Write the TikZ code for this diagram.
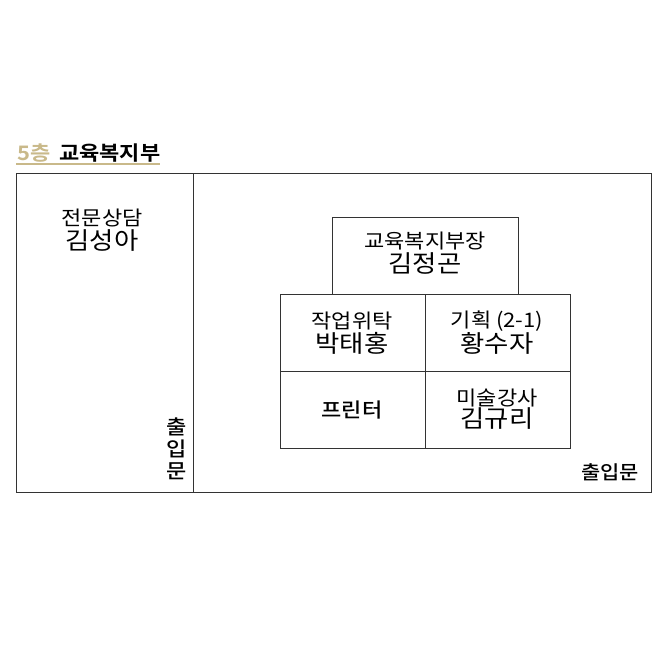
\documentclass[tikz,border=0pt]{standalone}
\usepackage{fontspec}
\setmainfont{Noto Sans CJK KR}[FakeStretch=1.1,BoldFont={* Bold}]
\newfontfamily\krmed{Noto Sans CJK KR Medium}[FakeStretch=1.1]
\definecolor{gold}{HTML}{C9B98A}
\definecolor{ln}{HTML}{333333}
\begin{document}
\begin{tikzpicture}[x=1pt,y=-1pt,
  wall/.style={draw=ln,line width=1pt},
  small/.style={font=\fontsize{20}{20}\selectfont,inner sep=0pt},
  big/.style={font=\fontsize{24}{24}\selectfont,inner sep=0pt}]
\useasboundingbox[fill=white] (0,0) rectangle (667,667);
% title
\node[anchor=base west,inner sep=0pt,text=gold,font=\fontsize{20}{20}\bfseries\selectfont] (t5) at (17,160) {5층};
\node[anchor=base west,inner sep=0pt,font=\fontsize{20}{20}\bfseries\selectfont] (tdept) at (59,160) {교육복지부};
\draw[gold,line width=2pt] (16,164) -- (160,164);
% outer room
\draw[wall] (16,173) rectangle (651,492);
\draw[wall] (193,173) -- (193,492);
% left room
\node[small] (l1) at (102,218) {전문상담};
\node[big] (l2) at (102,241) {김성아};
\node[small,align=center,font=\krmed\fontsize{20}{22}\selectfont] (door1) at (177,449) {출\\입\\문};
% right
\node[small,font=\krmed\fontsize{19}{19}\selectfont] (door2) at (610,472) {출입문};
% boss box
\draw[wall] (332,294) -- (332,217) -- (518,217) -- (518,294);
\node[small] (b1) at (425,241) {교육복지부장};
\node[big] (b2) at (425,263) {김정곤};
% grid
\draw[wall] (280,294) rectangle (570,448);
\draw[wall] (425,294) -- (425,448);
\draw[wall] (280,371) -- (570,371);
\node[small] (c1a) at (352,321) {작업위탁};
\node[big] (c1b) at (352,343) {박태홍};
\node[small] (c2a) at (497,321) {기획 (2-1)};
\node[big] (c2b) at (497,343) {황수자};
\node[small,font=\krmed\fontsize{20}{20}\selectfont] (c3) at (352,410) {프린터};
\node[small] (c4a) at (497,398) {미술강사};
\node[big] (c4b) at (497,419) {김규리};
\end{tikzpicture}
\end{document}
